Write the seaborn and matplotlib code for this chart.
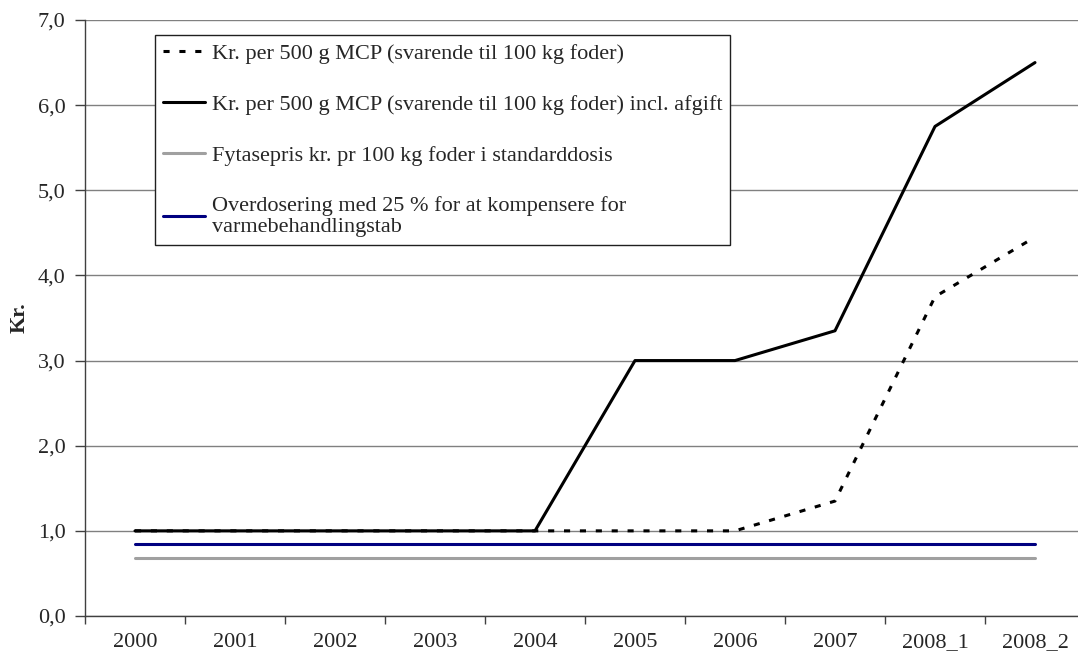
import numpy as np
import pandas as pd
import matplotlib
matplotlib.use("Agg")
import matplotlib.pyplot as plt
import seaborn as sns
from matplotlib.ticker import FixedLocator, FuncFormatter

# Data
categories = ["2000", "2001", "2002", "2003", "2004", "2005", "2006", "2007", "2008_1", "2008_2"]
mcp = [1.0, 1.0, 1.0, 1.0, 1.0, 1.0, 1.0, 1.35, 3.75, 4.45]
mcp_afgift = [1.0, 1.0, 1.0, 1.0, 1.0, 3.0, 3.0, 3.35, 5.75, 6.5]
fytase = [0.68] * 10
overdosering = [0.85] * 10

labels = [
    "Kr. per 500 g MCP (svarende til 100 kg foder)",
    "Kr. per 500 g MCP (svarende til 100 kg foder) incl. afgift",
    "Fytasepris kr. pr 100 kg foder i standarddosis",
    "Overdosering med 25 % for at kompensere for\nvarmebehandlingstab",
]

pos = np.arange(len(categories))
df = pd.concat([
    pd.DataFrame({"pos": pos, "value": vals, "series": lab})
    for vals, lab in zip([mcp, mcp_afgift, fytase, overdosering], labels)
])

sns.set_style("white")
plt.rcParams["font.family"] = ["Liberation Serif", "DejaVu Serif"]

fig = plt.figure(figsize=(10.78, 6.57), dpi=100)
# axes run past the right edge, as in the original cut-off chart
ax = fig.add_axes([85 / 1078, 41 / 657, 1000 / 1078, 596 / 657])

palette = {labels[0]: "black", labels[1]: "black", labels[2]: "#a0a0a0", labels[3]: "#000080"}
dashes = {labels[0]: (2.0, 3.2), labels[1]: "", labels[2]: "", labels[3]: ""}
sns.lineplot(data=df, x="pos", y="value", hue="series", style="series",
             palette=palette, dashes=dashes, hue_order=labels, style_order=labels,
             linewidth=2.2, ax=ax, legend=True, zorder=3)

ax.set_xlim(-0.5, len(categories) - 0.5)
ax.set_ylim(0, 7)
ax.set_yticks(np.arange(0, 7.01, 1))
ax.yaxis.set_major_formatter(FuncFormatter(lambda v, p: f"{v:.1f}".replace(".", ",")))
ax.yaxis.grid(True, color="#808080", linewidth=1)
ax.set_axisbelow(True)

# category boundaries as ticks, labels at centres
ax.xaxis.set_major_locator(FixedLocator(np.arange(-0.5, len(categories) - 0.5, 1)))
ax.xaxis.set_major_formatter(FuncFormatter(lambda v, p: ""))
ax.xaxis.set_minor_locator(FixedLocator(pos))
ax.set_xticklabels(categories, minor=True)
ax.tick_params(axis="x", which="major", length=6, width=1, color="#404040", direction="out", bottom=True)
ax.tick_params(axis="x", which="minor", length=0, pad=12, labelsize=16)
ax.tick_params(axis="y", length=7, width=1, color="#404040", direction="out", left=True, labelsize=16, pad=7)

for s in ["top", "right"]:
    ax.spines[s].set_visible(False)
for s in ["left", "bottom"]:
    ax.spines[s].set_color("#404040")
    ax.spines[s].set_linewidth(1)

ax.set_xlabel("")
ax.set_ylabel("Kr.", fontsize=16, fontweight="bold", labelpad=6)

leg = ax.legend(loc="upper left", bbox_to_anchor=(0.07, 0.974), borderaxespad=0,
                fontsize=16, frameon=True, fancybox=False, framealpha=1,
                edgecolor="#202020", handlelength=1.9, handletextpad=0.3,
                labelspacing=1.37, borderpad=0.35)
leg.get_frame().set_linewidth(1)
for t in leg.get_texts():
    t.set_linespacing(1.15)

fig.savefig("out.png", dpi=100)
